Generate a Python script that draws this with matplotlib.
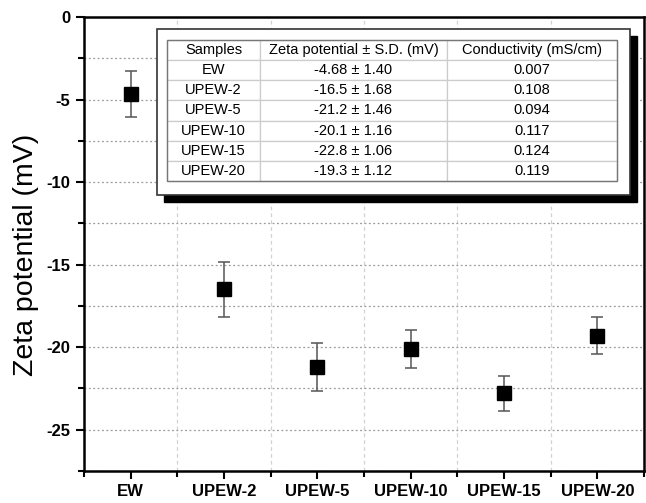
import matplotlib
matplotlib.use("Agg")
import matplotlib.pyplot as plt
from matplotlib.patches import Rectangle
from matplotlib.ticker import MultipleLocator

plt.rcParams['font.family'] = ['Liberation Sans', 'DejaVu Sans']

samples = ["EW", "UPEW-2", "UPEW-5", "UPEW-10", "UPEW-15", "UPEW-20"]
zeta = [-4.68, -16.5, -21.2, -20.1, -22.8, -19.3]
sd = [1.40, 1.68, 1.46, 1.16, 1.06, 1.12]
zeta_text = ["-4.68 ± 1.40", "-16.5 ± 1.68", "-21.2 ± 1.46", "-20.1 ± 1.16", "-22.8 ± 1.06", "-19.3 ± 1.12"]
conductivity = ["0.007", "0.108", "0.094", "0.117", "0.124", "0.119"]
headers = ["Samples", "Zeta potential ± S.D. (mV)", "Conductivity (mS/cm)"]

W, H = 646, 503
fig = plt.figure(figsize=(W/100, H/100), dpi=100)
ax = fig.add_axes([84/W, 1-471/H, (644-84)/W, (471-17)/H])

x = list(range(1, len(samples)+1))
ax.errorbar(x, zeta, yerr=sd, fmt='s', color='black', ms=9.5, ecolor='#555555',
            elinewidth=1.1, capsize=4.5, capthick=1.1, zorder=5)

ax.set_xlim(0.5, 6.5)
ax.set_ylim(-27.5, 0)
ax.set_xticks(x)
ax.set_xticklabels(samples, fontweight='bold', fontsize=12)
ax.xaxis.set_minor_locator(MultipleLocator(1, offset=0.5))
ax.yaxis.set_minor_locator(MultipleLocator(2.5))
ax.set_yticks([0, -5, -10, -15, -20, -25])
ax.set_yticklabels(["0", "-5", "-10", "-15", "-20", "-25"], fontweight='bold', fontsize=12)
ax.tick_params(which='both', direction='out', width=1.5, length=6)
ax.tick_params(which='minor', length=4)
ax.tick_params(axis='x', which='major', pad=3)
ax.tick_params(axis='y', which='major', pad=4)
ax.set_ylabel("Zeta potential (mV)", fontsize=20.5)
ax.yaxis.set_label_coords(-0.08, 0.476)
for s in ax.spines.values():
    s.set_linewidth(1.8)

ax.grid(True, axis='y', which='both', color='#9a9a9a', linestyle=(0, (1.5, 2)), linewidth=0.9)
ax.grid(True, axis='x', which='minor', color='#d2d2d2', linestyle=(0, (3, 2.5)), linewidth=0.9)
ax.set_axisbelow(True)

# table box with shadow
bx0, by0, bx1, by1 = 157, 29, 630, 195
off = 7
fig.patches.append(Rectangle(((bx0+off)/W, 1-(by1+off)/H), (bx1-bx0)/W, (by1-by0)/H,
                             transform=fig.transFigure, facecolor='black', edgecolor='black', zorder=10))
fig.patches.append(Rectangle((bx0/W, 1-by1/H), (bx1-bx0)/W, (by1-by0)/H,
                             transform=fig.transFigure, facecolor='white', edgecolor='#333333',
                             linewidth=1.2, zorder=11))

tx0, ty0, tx1, ty1 = 167, 40, 617, 181
tax = fig.add_axes([tx0/W, 1-ty1/H, (tx1-tx0)/W, (ty1-ty0)/H], zorder=12)
tax.set_axis_off()
rows = [[s, z, c] for s, z, c in zip(samples, zeta_text, conductivity)]
tbl = tax.table(cellText=rows, colLabels=headers, cellLoc='center', bbox=[0, 0, 1, 1],
                colWidths=[(260-167), (447-260), (617-447)])
tbl.auto_set_font_size(False)
for (r, c), cell in tbl.get_celld().items():
    cell.set_edgecolor('#cccccc')
    cell.set_linewidth(0.9)
    cell.get_text().set_fontsize(10.5)
tax.add_patch(Rectangle((0, 0), 1, 1, transform=tax.transAxes, fill=False,
                        edgecolor='#777777', linewidth=1.0, zorder=20, clip_on=False))

fig.savefig("out.png", dpi=100)
